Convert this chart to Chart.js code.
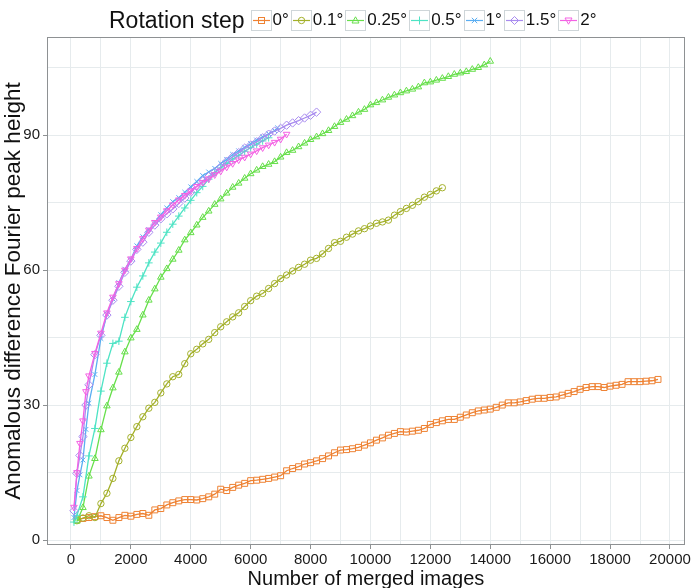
<!DOCTYPE html>
<html>
<head>
<meta charset="utf-8">
<script src="https://cdn.jsdelivr.net/npm/chart.js@4.4.1/dist/chart.umd.min.js"></script>
<style>
  body { margin: 0; background: #fff; }
  #wrap { position: relative; width: 693px; height: 588px; }
  #legend {
    position: absolute; left: 109px; top: 9px; height: 22px;
    display: flex; align-items: center;
    font-family: "Liberation Sans", Arial, sans-serif; color: #111;
  }
  #legend .title { font-size: 23px; margin-right: 6px; }
  #legend .item { display: flex; align-items: center; margin-right: 2px; }
  #legend svg { display: block; }
  #legend .lab { font-size: 17px; margin-left: 1px; }
</style>
</head>
<body>
<div id="wrap">
  <canvas id="myChart" width="693" height="588"></canvas>
  <div id="legend"></div>
</div>
<script>
'use strict';

// axis ticks (grid every step, label on every other one)
let xTickValues = [0, 1000, 2000, 3000, 4000, 5000, 6000, 7000, 8000, 9000, 10000,
  11000, 12000, 13000, 14000, 15000, 16000, 17000, 18000, 19000, 20000];
let xTickLabels = ['0', '2000', '4000', '6000', '8000', '10000', '12000', '14000', '16000', '18000', '20000'];
let yTickValues = [0, 15, 30, 45, 60, 75, 90, 105];
let yTickLabels = ['0', '30', '60', '90'];

// number of merged images (shared grid for the long runs)
let mergedImages = [200, 400, 600, 800, 1000, 1200, 1400, 1600, 1800, 2000,
  2200, 2400, 2600, 2800, 3000, 3200, 3400, 3600, 3800, 4000,
  4200, 4400, 4600, 4800, 5000, 5200, 5400, 5600, 5800, 6000,
  6200, 6400, 6600, 6800, 7000, 7200, 7400, 7600, 7800, 8000,
  8200, 8400, 8600, 8800, 9000, 9200, 9400, 9600, 9800, 10000,
  10200, 10400, 10600, 10800, 11000, 11200, 11400, 11600, 11800, 12000,
  12200, 12400, 12600, 12800, 13000, 13200, 13400, 13600, 13800, 14000,
  14200, 14400, 14600, 14800, 15000, 15200, 15400, 15600, 15800, 16000,
  16200, 16400, 16600, 16800, 17000, 17200, 17400, 17600, 17800, 18000,
  18200, 18400, 18600, 18800, 19000, 19200, 19400, 19600];

// x for the fast-rising runs (finer at the start)
let mergedCyan = [100, 200, 400, 600, 800, 1000, 1200, 1400, 1600, 1800, 2000,
  2200, 2400, 2600, 2800, 3000, 3200, 3400, 3600, 3800, 4000,
  4200, 4400, 4600, 4800, 5000, 5200, 5400, 5600, 5800, 6000, 6200, 6400, 6600];
let mergedBlue = [100, 200, 300, 400, 500, 600, 800, 1000, 1200, 1400, 1600, 1800, 2000,
  2200, 2400, 2600, 2800, 3000, 3200, 3400, 3600, 3800, 4000,
  4200, 4400, 4600, 4800, 5000, 5200, 5400, 5600, 5800, 6000, 6200, 6400, 6600, 6800, 6900];
let mergedPurple = [100, 200, 300, 400, 500, 600, 800, 1000, 1200, 1400, 1600, 1800, 2000,
  2200, 2400, 2600, 2800, 3000, 3200, 3400, 3600, 3800, 4000,
  4200, 4400, 4600, 4800, 5000, 5200, 5400, 5600, 5800, 6000,
  6200, 6400, 6600, 6800, 7000, 7200, 7400, 7600, 7800, 8000, 8200];
let mergedMagenta = [100, 200, 300, 400, 500, 600, 800, 1000, 1200, 1400, 1600, 1800, 2000,
  2200, 2400, 2600, 2800, 3000, 3200, 3400, 3600, 3800, 4000,
  4200, 4400, 4600, 4800, 5000, 5200, 5400, 5600, 5800, 6000,
  6200, 6400, 6600, 6800, 7000, 7200];

// peak heights
let step0 = [4.5, 4.8, 5.0, 5.2, 5.4, 5.0, 4.4, 5.0, 5.5, 5.3,
  5.7, 5.9, 5.5, 6.7, 7.0, 7.8, 8.3, 8.7, 9.0, 9.0,
  8.9, 9.2, 9.6, 10.2, 11.3, 11.0, 11.7, 12.2, 12.6, 13.2,
  13.3, 13.5, 13.7, 14.0, 14.3, 15.4, 15.9, 16.3, 16.9, 17.2,
  17.6, 18.1, 18.7, 19.4, 20.0, 20.1, 20.3, 20.6, 21.1, 21.6,
  22.2, 22.7, 23.3, 23.7, 24.1, 24.0, 24.2, 24.4, 24.8, 25.7,
  26.1, 26.5, 26.8, 26.8, 27.3, 27.8, 28.3, 28.7, 28.9, 29.1,
  29.5, 30.0, 30.5, 30.5, 30.7, 31.0, 31.3, 31.5, 31.5, 31.7,
  31.8, 32.2, 32.6, 33.0, 33.5, 33.9, 34.1, 34.1, 33.9, 34.2,
  34.4, 34.6, 35.2, 35.2, 35.2, 35.3, 35.4, 35.7];
let step01 = [4.3, 4.9, 5.4, 5.0, 8.1, 10.4, 13.7, 17.6, 20.4, 22.8,
  25.2, 27.4, 29.3, 30.6, 32.7, 34.7, 36.3, 36.8, 39.2, 41.4,
  42.4, 43.6, 44.6, 46.1, 47.4, 48.5, 49.6, 50.5, 51.9, 53.2,
  54.2, 54.8, 55.9, 57.0, 58.1, 58.9, 59.8, 60.6, 61.3, 62.2,
  62.6, 63.6, 64.8, 66.1, 66.4, 67.3, 68.0, 68.7, 69.2, 69.8,
  70.4, 70.7, 71.1, 72.2, 73.0, 73.7, 74.4, 75.2, 76.2, 76.8,
  77.6, 78.3];
let step025 = [4.2, 7.2, 14.2, 18.1, 24.5, 29.8, 33.8, 37.3, 41.8, 44.9,
  46.8, 50.0, 53.3, 55.8, 58.4, 60.3, 62.4, 64.4, 66.7, 68.3,
  70.0, 71.7, 73.1, 74.6, 75.8, 77.1, 78.4, 79.3, 80.4, 81.4,
  82.2, 83.0, 83.5, 84.1, 85.1, 86.1, 86.6, 87.4, 88.2, 89.0,
  89.6, 90.3, 91.0, 91.9, 92.8, 93.5, 94.3, 95.1, 95.7, 96.7,
  97.2, 97.8, 98.4, 98.9, 99.4, 99.8, 100.2, 100.7, 101.6, 101.8,
  102.2, 102.6, 103.0, 103.5, 103.8, 104.1, 104.6, 105.0, 105.6, 106.4];
let step05 = [4.0, 5.5, 9.6, 18.7, 24.8, 33.1, 39.3, 43.7, 44.2, 49.5, 53.0,
  56.2, 58.7, 61.6, 64.0, 66.0, 68.4, 70.2, 72.0, 73.8, 75.5,
  77.2, 78.6, 80.2, 81.6, 82.7, 83.7, 84.7, 85.5, 86.4, 87.2, 88.0, 88.7, 89.4];
let step1 = [5.0, 11.0, 14.5, 17.8, 24.6, 30.4, 36.8, 44.8, 50.2, 53.6, 57.2, 60.2, 62.4,
  65.4, 67.4, 69.0, 70.6, 72.3, 73.8, 75.2, 76.1, 77.3, 78.5,
  79.7, 81.0, 81.8, 82.6, 83.7, 84.6, 85.7, 86.5, 87.3, 88.1, 88.9, 89.6, 90.3, 91.0, 91.6];
let step15 = [6.5, 14.8, 18.8, 23.0, 30.0, 34.5, 41.2, 45.5, 50.0, 53.3, 56.4, 59.5, 62.0,
  64.6, 66.2, 68.4, 70.0, 71.4, 72.5, 73.6, 74.8, 76.0, 77.3,
  78.6, 79.8, 80.8, 81.8, 82.9, 84.2, 85.2, 86.1, 87.1, 87.8,
  88.5, 89.4, 90.2, 90.9, 91.5, 92.2, 92.7, 93.2, 93.8, 94.4, 95.1];
let step2 = [7.3, 15.0, 21.5, 26.5, 33.0, 36.5, 41.5, 46.0, 50.5, 54.0, 57.0, 60.0, 62.5,
  64.8, 67.0, 68.9, 70.6, 71.8, 73.2, 74.5, 75.6, 76.6, 77.6,
  78.6, 79.5, 80.3, 81.2, 82.0, 82.9, 83.7, 84.5, 85.1, 85.8,
  86.5, 87.2, 87.8, 88.4, 89.1, 90.2];

let stepLabels = ['0°', '0.1°', '0.25°', '0.5°', '1°', '1.5°', '2°'];
let stepColors = ['#ee8233', '#a3b02a', '#66df4a', '#4de3c4', '#5aaef2', '#a88bef', '#f462e4'];
let stepShapes = ['rect', 'circle', 'triangle', 'cross', 'crossRot', 'rectRot', 'triangle'];
let stepRotation = [0, 0, 0, 0, 0, 0, 180];
let stepRadius = [4.2, 3.2, 3.8, 3.8, 3.4, 4.2, 3.8];
let stepX = [mergedImages, mergedImages, mergedImages, mergedCyan, mergedBlue, mergedPurple, mergedMagenta];
let stepY = [step0, step01, step025, step05, step1, step15, step2];

function makePoints(xs, ys) {
  return ys.map(function(y, i) { return {x: xs[i], y: y}; });
}

let datasets = [];
for (let i = 0; i < stepLabels.length; i++) {
  datasets.push({
    label: stepLabels[i],
    data: makePoints(stepX[i], stepY[i]),
    borderColor: stepColors[i],
    backgroundColor: 'transparent',
    borderWidth: 1.3,
    pointStyle: stepShapes[i],
    pointRotation: stepRotation[i],
    pointRadius: stepRadius[i],
    pointBorderWidth: 1,
    pointBorderColor: stepColors[i],
    pointBackgroundColor: 'transparent',
    fill: false,
    tension: 0,
    order: stepLabels.length - i
  });
}

// grey frame round the panel
const panelBorder = {
  id: 'panelBorder',
  afterDraw(chart) {
    const a = chart.chartArea;
    const c = chart.ctx;
    c.save();
    c.strokeStyle = '#8e9193';
    c.lineWidth = 1;
    c.strokeRect(Math.round(a.left) + 0.5, Math.round(a.top) + 0.5, Math.round(a.right - a.left) - 1, Math.round(a.bottom - a.top) - 1);
    c.restore();
  }
};

const fontFamily = '"Liberation Sans", Arial, sans-serif';

new Chart(document.getElementById('myChart').getContext('2d'), {
  type: 'line',
  data: { datasets: datasets },
  plugins: [panelBorder],
  options: {
    responsive: false,
    animation: false,
    layout: { padding: { top: 37, right: 7, left: 0, bottom: 0 } },
    plugins: { legend: { display: false }, tooltip: { enabled: false } },
    scales: {
      x: {
        type: 'linear',
        min: -800,
        max: 20500,
        afterFit: function(scale) { scale.height = 43; },
        afterBuildTicks: function(scale) { scale.ticks = xTickValues.map(function(v) { return {value: v}; }); },
        border: { display: false },
        grid: {
          color: '#e6ebed',
          lineWidth: 1,
          tickLength: 4,
          tickColor: function(ctx) { return ctx.tick && xTickLabels.includes(String(ctx.tick.value)) ? '#8e9193' : 'transparent'; }
        },
        ticks: {
          autoSkip: false,
          maxRotation: 0,
          padding: 2,
          color: '#1a1a1a',
          font: { family: fontFamily, size: 15 },
          callback: function(v) { return xTickLabels.includes(String(v)) ? String(v) : ''; }
        },
        title: {
          display: true,
          text: 'Number of merged images',
          color: '#111',
          font: { family: fontFamily, size: 20 },
          padding: { top: 0, bottom: -3 }
        }
      },
      y: {
        type: 'linear',
        min: -1.1,
        max: 111.8,
        afterFit: function(scale) { scale.width = 47; },
        afterBuildTicks: function(scale) { scale.ticks = yTickValues.map(function(v) { return {value: v}; }); },
        border: { display: false },
        grid: {
          color: '#e6ebed',
          lineWidth: 1,
          tickLength: 4,
          tickColor: function(ctx) { return ctx.tick && yTickLabels.includes(String(ctx.tick.value)) ? '#8e9193' : 'transparent'; }
        },
        ticks: {
          autoSkip: false,
          padding: 3,
          color: '#1a1a1a',
          font: { family: fontFamily, size: 15 },
          callback: function(v) { return yTickLabels.includes(String(v)) ? String(v) : ''; }
        },
        title: {
          display: true,
          text: 'Anomalous difference Fourier peak height',
          color: '#111',
          font: { family: fontFamily, size: 22.5 },
          padding: { top: 0, bottom: 0 }
        }
      }
    }
  }
});

// legend row: title plus one keyed box per rotation step
function shapeSvg(shape, rot, color) {
  let s = '';
  if (shape === 'rect') s = '<rect x="7.5" y="7.5" width="6" height="6" fill="none" stroke="' + color + '"/>';
  if (shape === 'circle') s = '<circle cx="10.5" cy="10.5" r="3.2" fill="none" stroke="' + color + '"/>';
  if (shape === 'triangle' && rot === 0) s = '<polygon points="10.5,6.8 14,13 7,13" fill="none" stroke="' + color + '"/>';
  if (shape === 'triangle' && rot === 180) s = '<polygon points="10.5,14.2 14,8 7,8" fill="none" stroke="' + color + '"/>';
  if (shape === 'cross') s = '<path d="M10.5 6.5V14.5M6.5 10.5H14.5" stroke="' + color + '"/>';
  if (shape === 'crossRot') s = '<path d="M7.8 7.8L13.2 13.2M13.2 7.8L7.8 13.2" stroke="' + color + '"/>';
  if (shape === 'rectRot') s = '<polygon points="10.5,6.5 14.5,10.5 10.5,14.5 6.5,10.5" fill="none" stroke="' + color + '"/>';
  return s;
}

let legendElement = document.getElementById('legend');
let html = '<span class="title">Rotation step</span>';
for (let i = 0; i < stepLabels.length; i++) {
  html += '<span class="item"><svg width="21" height="21" viewBox="0 0 21 21">' +
    '<rect x="0.5" y="0.5" width="20" height="20" fill="#fff" stroke="#cfd6d9"/>' +
    '<line x1="2" y1="10.5" x2="19" y2="10.5" stroke="' + stepColors[i] + '" stroke-width="1.2"/>' +
    shapeSvg(stepShapes[i], stepRotation[i], stepColors[i]) +
    '</svg><span class="lab">' + stepLabels[i] + '</span></span>';
}
legendElement.innerHTML = html;
</script>
</body>
</html>
